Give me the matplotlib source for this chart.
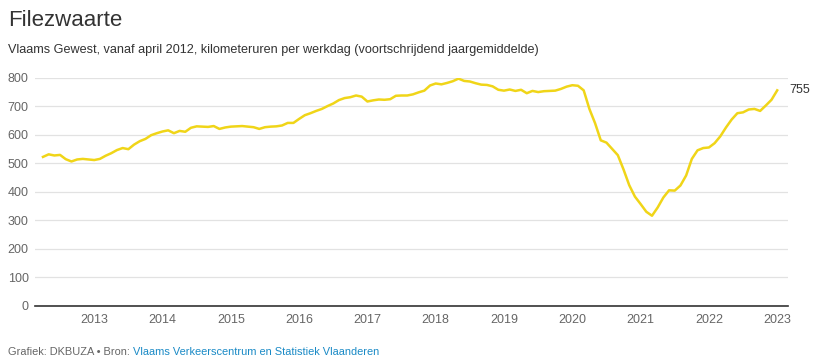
import matplotlib
matplotlib.use("Agg")
import matplotlib.pyplot as plt
import numpy as np

# Data: monthly, April 2012 .. January 2023 (rolling yearly mean, km-hours per workday)
start_year = 2012
start_month = 4
values = [
    522, 531, 527, 529, 514, 506, 513, 515, 513, 511,
    515, 526, 535, 546, 553, 549, 565, 577, 585, 598,
    605, 611, 615, 605, 613, 610, 624, 629, 628, 627,
    630, 620, 625, 628, 629, 630, 628, 626, 620, 626,
    628, 629, 632, 641, 641, 655, 668, 675, 683, 690,
    700, 709, 721, 728, 731, 737, 733, 716, 720, 723,
    722, 724, 736, 737, 737, 741, 748, 754, 772, 779,
    776, 781, 787, 796, 788, 786, 780, 775, 774, 769,
    757, 754, 758, 753, 757, 745, 753, 749, 752, 753,
    754, 760, 768, 773, 771, 755, 690, 640, 580, 572,
    550, 528, 478, 423, 383, 357, 330, 316, 345, 380,
    405, 404, 422, 457, 515, 545, 553, 555, 570, 594,
    625, 653, 675, 678, 688, 690, 683, 702, 722, 755,
]
year_ticks = list(range(2013, 2024))
y_ticks = [0, 100, 200, 300, 400, 500, 600, 700, 800]

title = "Filezwaarte"
subtitle = "Vlaams Gewest, vanaf april 2012, kilometeruren per werkdag (voortschrijdend jaargemiddelde)"
footer_a = "Grafiek: DKBUZA \u2022 Bron: "
footer_b = "Vlaams Verkeerscentrum en Statistiek Vlaanderen"

x = start_year + (start_month - 1) / 12 + np.arange(len(values)) / 12.0

plt.rcParams['font.family'] = ['Liberation Sans', 'DejaVu Sans']

fig = plt.figure(figsize=(8.18, 3.64), dpi=100)
ax = fig.add_axes([35 / 818, 1 - 306 / 364, (788 - 35) / 818, (306 - 77.5) / 364])

line_color = "#F0D518"
ax.plot(x, values, color=line_color, lw=1.8, solid_joinstyle='round', zorder=3)

ax.set_xlim(2012.133, 2023.158)
ax.set_ylim(0, 800)
ax.set_yticks(y_ticks)
ax.set_xticks(year_ticks)
ax.set_xticklabels([str(y) for y in year_ticks])
ax.tick_params(axis='both', length=0, labelsize=9, colors="#666666")
ax.tick_params(axis='y', pad=4.5)
ax.tick_params(axis='x', pad=6)
ax.grid(axis='y', color="#e2e2e2", lw=0.9)
ax.grid(axis='x', visible=False)
for s in ['top', 'right', 'left']:
    ax.spines[s].set_visible(False)
ax.spines['bottom'].set_color("#333333")
ax.spines['bottom'].set_linewidth(1.2)
ax.set_axisbelow(True)

ax.annotate(str(values[-1]), xy=(x[-1], values[-1]), xytext=(9, 0),
            textcoords='offset points', va='center', ha='left',
            fontsize=9, color="#333333", clip_on=False)

fig.text(8 / 818, 1 - 20 / 364, title, fontsize=16, color="#333333", va='center', ha='left')
fig.text(8 / 818, 1 - 50 / 364, subtitle, fontsize=9.1, color="#333333", va='center', ha='left')

t1 = fig.text(8 / 818, 1 - 352 / 364, footer_a, fontsize=7.95, color="#666666", va='center', ha='left')
fig.canvas.draw()
ax.annotate(footer_b, xy=(1, 0.5), xycoords=t1, va='center', ha='left',
            fontsize=7.95, color="#1a8ac6", annotation_clip=False)

fig.savefig("out.png", dpi=100, facecolor="white")
